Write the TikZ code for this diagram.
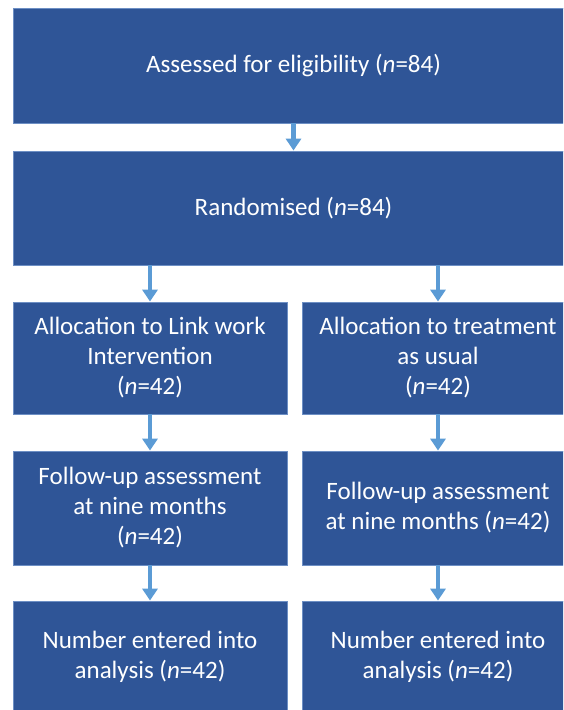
\documentclass[tikz,border=0pt]{standalone}
\usepackage{fontspec}
\setmainfont{Carlito}
\usetikzlibrary{arrows.meta}
\definecolor{boxfill}{HTML}{2F5597}
\definecolor{boxline}{HTML}{6D8FC4}
\definecolor{arrowblue}{HTML}{5B9BD5}
\begin{document}
\begin{tikzpicture}%
[x=1pt, y=-1pt,
every node/.style={rectangle, draw=boxline, fill=boxfill, line width=0.8pt,
text=white, align=center, font=\fontsize{25}{30}\selectfont,
inner sep=0pt},
flowarrow/.style={draw=arrowblue, line width=4.5pt,
-{Triangle[width=15pt,length=12pt]}}]
\useasboundingbox (0,0) rectangle (563,710);
\clip (0,0) rectangle (563,710);
\node (assessed) at (293.5,65.5) [minimum width=561pt, minimum height=115pt]
{Assessed for eligibility (\textit{n}=84)};
\node (randomised) at (293.5,208) [minimum width=561pt, minimum height=114pt]
{Randomised (\textit{n}=84)};
\node (allocLink) at (150,358) [minimum width=274pt, minimum height=112pt]
{Allocation to Link work\\Intervention\\(\textit{n}=42)};
\node (allocTAU) at (438,358) [minimum width=272pt, minimum height=112pt]
{Allocation to treatment\\as usual\\(\textit{n}=42)};
\node (followLink) at (150,508) [minimum width=274pt, minimum height=114pt]
{Follow-up assessment\\at nine months\\(\textit{n}=42)};
\node (followTAU) at (438,508) [minimum width=272pt, minimum height=114pt]
{Follow-up assessment\\at nine months (\textit{n}=42)};
\node (analysisLink) at (150,657) [minimum width=274pt, minimum height=112pt]
{Number entered into\\analysis (\textit{n}=42)};
\node (analysisTAU) at (438,657) [minimum width=272pt, minimum height=112pt]
{Number entered into\\analysis (\textit{n}=42)};
\draw [flowarrow] (assessed.south) -- (randomised.north);
\draw [flowarrow] (randomised.south -| allocLink.north) -- (allocLink.north);
\draw [flowarrow] (randomised.south -| allocTAU.north) -- (allocTAU.north);
\draw [flowarrow] (allocLink.south) -- (followLink.north);
\draw [flowarrow] (allocTAU.south) -- (followTAU.north);
\draw [flowarrow] (followLink.south) -- (analysisLink.north);
\draw [flowarrow] (followTAU.south) -- (analysisTAU.north);
\end{tikzpicture}
\end{document}
